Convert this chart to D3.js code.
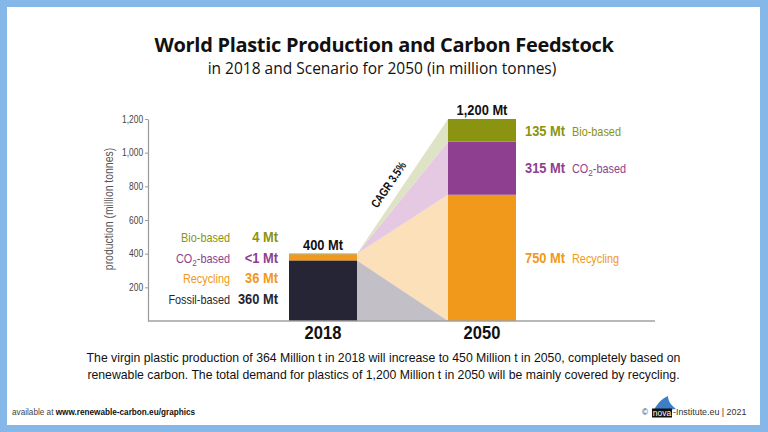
<!DOCTYPE html>
<html>
<head>
<meta charset="utf-8">
<script src="https://cdn.jsdelivr.net/npm/d3@7"></script>
<style>
  body { margin: 0; background: #85b8e8; }
  svg { display: block; }
</style>
</head>
<body>
<script>
'use strict';

// chart data
const years = ["2018", "2050"];
const sources = ["Fossil-based", "Recycling", "CO2-based", "Bio-based"];
const values2018 = [360, 36, 0.5, 4];
const values2050 = [0, 750, 315, 135];
const labels2018 = ["360 Mt", "36 Mt", "<1 Mt", "4 Mt"];
const labels2050 = ["", "750 Mt", "315 Mt", "135 Mt"];
const totals = [400, 1200];
const totalLabels = ["400 Mt", "1,200 Mt"];
const yTicks = [200, 400, 600, 800, 1000, 1200];
const growthLabel = "CAGR 3.5%";

const colors = ["#262535", "#f0991a", "#8e3f8f", "#8a9410"];
const flowColors = ["#c2c0c6", "#fce0b9", "#e5c8e2", "#dfe3c6"];
const labelColors = ["#262535", "#f0991a", "#8e3f8f", "#8a9410"];

// no condensed face installed, so squeeze Liberation Sans horizontally
const sans = "'Liberation Sans', Arial, sans-serif";

const svg = d3.select('body').append('svg')
  .attr('width', 768)
  .attr('height', 432);

// frame
svg.append('rect')
  .attr('x', 7).attr('y', 7)
  .attr('width', 753).attr('height', 418)
  .attr('fill', '#ffffff');

// narrow text helper: position by transform, squeeze by sx
function narrowText(px, py, sx, size, weight) {
  return svg.append('text')
    .attr('transform', `translate(${px},${py}) scale(${sx},1)`)
    .style('font-family', sans)
    .style('font-size', size + 'px')
    .style('font-weight', weight || 'normal');
}

// scales
const x = d3.scaleBand()
  .domain(years)
  .range([289, 516])
  .paddingInner(91 / 159)
  .paddingOuter(0);

const y = d3.scaleLinear()
  .domain([0, 1200])
  .range([321, 119]);

// title
svg.append('text')
  .attr('x', 384).attr('y', 52)
  .attr('text-anchor', 'middle')
  .style('font-family', "'Open Sans', sans-serif")
  .style('font-weight', 'bold')
  .style('font-size', '20px')
  .style('letter-spacing', '-0.3px')
  .attr('fill', '#111')
  .text('World Plastic Production and Carbon Feedstock');

svg.append('text')
  .attr('x', 382).attr('y', 74)
  .attr('text-anchor', 'middle')
  .style('font-family', "'Open Sans', sans-serif")
  .style('font-size', '15.5px')
  .attr('fill', '#111')
  .text('in 2018 and Scenario for 2050 (in million tonnes)');

// stacks
function stack(values) {
  let acc = 0;
  return values.map((v) => {
    let seg = { y0: acc, y1: acc + v };
    acc += v;
    return seg;
  });
}
const stack2018 = stack(values2018);
const stack2050 = stack(values2050);

// flow shapes between the two bars
const xa = x("2018") + x.bandwidth();
const xb = x("2050");
const apex = y(totals[0]);
const flows = svg.append('g');

// recycling fan (drawn first, fossil wedge covers its lower part)
flows.append('path')
  .attr('fill', flowColors[1])
  .attr('d', d3.line()([
    [xa, apex], [xb, y(stack2050[1].y1)], [xb, y(0)], [xa, y(stack2018[0].y1)]
  ]));
flows.append('path')
  .attr('fill', flowColors[0])
  .attr('d', d3.line()([
    [xa, y(stack2018[0].y1)], [xb, y(0)], [xa, y(0)]
  ]));
[2, 3].forEach((i) => {
  flows.append('path')
    .attr('fill', flowColors[i])
    .attr('d', d3.line()([
      [xa, apex], [xb, y(stack2050[i].y1)], [xb, y(stack2050[i].y0)]
    ]));
});

// bars
const bars = svg.append('g');
[[years[0], stack2018], [years[1], stack2050]].forEach(([yr, st]) => {
  bars.selectAll(null)
    .data(st.map((d, i) => ({ ...d, i: i })).filter((d) => d.y1 > d.y0))
    .enter()
    .append('rect')
      .attr('x', x(yr))
      .attr('width', x.bandwidth())
      .attr('y', (d) => y(d.y1))
      .attr('height', (d) => y(d.y0) - y(d.y1))
      .attr('fill', (d) => colors[d.i]);
});

// y axis
const yAxis = d3.axisLeft(y)
  .tickValues(yTicks)
  .tickFormat(d3.format(','))
  .tickSize(3)
  .tickSizeOuter(0);
const gy = svg.append('g')
  .attr('transform', 'translate(148, 0)')
  .call(yAxis);
gy.select('.domain').attr('stroke', '#9a9a9a').attr('stroke-width', 1.2);
gy.selectAll('.tick line').attr('stroke', '#9a9a9a');
gy.selectAll('.tick text')
  .attr('x', -6)
  .attr('transform', 'scale(0.82,1)')
  .style('font-family', sans)
  .style('font-size', '10.3px')
  .attr('fill', '#444');

narrowText(0, 0, 0.87, 12)
  .attr('transform', 'translate(113, 209) rotate(-90) scale(0.87,1)')
  .attr('text-anchor', 'middle')
  .attr('fill', '#555')
  .text('production (million tonnes)');

// baseline
svg.append('line')
  .attr('x1', 148).attr('x2', 655)
  .attr('y1', y(0)).attr('y2', y(0))
  .attr('stroke', '#a0a0a0')
  .attr('stroke-width', 1.5);

// year labels
years.forEach((yr) => {
  narrowText(x(yr) + x.bandwidth() / 2, 339, 0.87, 19, 'bold')
    .attr('text-anchor', 'middle')
    .attr('fill', '#111')
    .text(yr);
});

// totals over bars
totals.forEach((d, i) => {
  narrowText(x(years[i]) + x.bandwidth() / 2, y(d) - 4, 0.92, 14, 'bold')
    .attr('text-anchor', 'middle')
    .attr('fill', '#111')
    .text(totalLabels[i]);
});

// source name, with CO2 subscript
function sourceName(sel, name) {
  if (name.startsWith('CO2')) {
    sel.append('tspan').text('CO');
    sel.append('tspan').attr('dy', 3).style('font-size', '0.75em').text('2');
    sel.append('tspan').attr('dy', -3).text(name.slice(3));
  } else {
    sel.text(name);
  }
}

// left labels for 2018
const leftRows = [304, 283, 262.5, 242];
sources.forEach((s, i) => {
  let t = narrowText(230, leftRows[i], 0.87, 12.5)
    .attr('text-anchor', 'end')
    .attr('fill', labelColors[i]);
  sourceName(t, s);
  narrowText(278, leftRows[i], 0.92, 14, 'bold')
    .attr('text-anchor', 'end')
    .attr('fill', labelColors[i])
    .text(labels2018[i]);
});

// right labels for 2050
const rightRows = [0, 263, 173, 136];
sources.forEach((s, i) => {
  if (!labels2050[i]) return;
  narrowText(525, rightRows[i], 0.92, 14, 'bold')
    .attr('fill', labelColors[i])
    .text(labels2050[i]);
  let t = narrowText(572, rightRows[i], 0.87, 12.5)
    .attr('fill', labelColors[i]);
  sourceName(t, s);
});

// growth label along the top flow edge
const angle = Math.atan2(y(totals[1]) - apex, xb - xa) * 180 / Math.PI;
svg.append('text')
  .attr('transform', `translate(392, 187) rotate(${angle}) scale(0.8,1)`)
  .attr('text-anchor', 'middle')
  .style('font-family', sans)
  .style('font-weight', 'bold')
  .style('font-size', '12px')
  .attr('fill', '#111')
  .text(growthLabel);

// note below the chart
const noteLines = [
  'The virgin plastic production of 364 Million t in 2018 will increase to 450 Million t in 2050, completely based on',
  'renewable carbon. The total demand for plastics of 1,200 Million t in 2050 will be mainly covered by recycling.'
];
svg.selectAll('.note')
  .data(noteLines)
  .enter()
  .append('text')
    .attr('x', 383.5)
    .attr('y', (d, i) => 362 + i * 17)
    .attr('text-anchor', 'middle')
    .style('font-family', sans)
    .style('font-size', '12.25px')
    .attr('fill', '#111')
    .text((d) => d);

// footer
const foot = svg.append('text')
  .attr('x', 12).attr('y', 415)
  .style('font-family', sans)
  .style('font-size', '8.2px')
  .attr('fill', '#444');
foot.append('tspan').text('available at ');
foot.append('tspan').attr('fill', '#111').style('font-weight', 'bold').text('www.renewable-carbon.eu/graphics');

svg.append('text')
  .attr('x', 642).attr('y', 415)
  .style('font-family', sans)
  .style('font-size', '8.2px')
  .attr('fill', '#333')
  .text('©');

// nova logo
const logo = svg.append('g');
logo.append('path')
  .attr('d', 'M653,412 C656,405 661,399 668,396 C668,401 671,405 676,409 Z')
  .attr('fill', '#3d7fc6');
logo.append('rect')
  .attr('x', 652).attr('y', 408.5)
  .attr('width', 20).attr('height', 9)
  .attr('fill', '#111');
logo.append('text')
  .attr('x', 662).attr('y', 416)
  .attr('text-anchor', 'middle')
  .style('font-family', sans)
  .style('font-size', '8.5px')
  .attr('fill', '#fff')
  .text('nova');

svg.append('text')
  .attr('x', 673).attr('y', 415)
  .style('font-family', sans)
  .style('font-size', '8.9px')
  .attr('fill', '#333')
  .text('-Institute.eu | 2021');
</script>
</body>
</html>
